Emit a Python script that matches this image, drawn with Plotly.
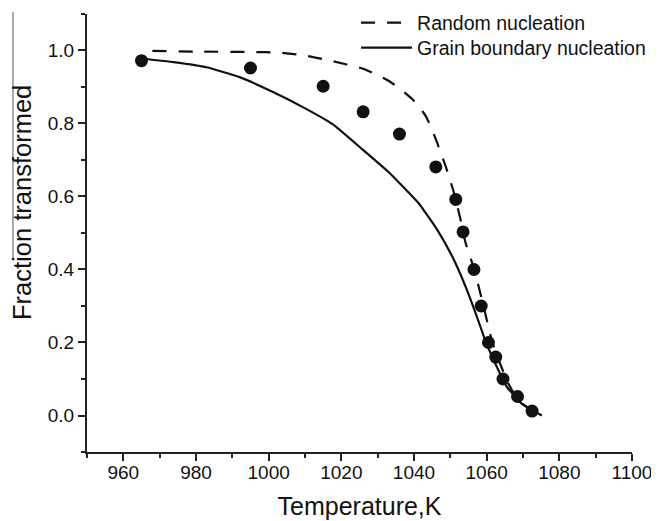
import plotly.graph_objects as go

# Experimental points
exp_T = [965, 995, 1015, 1026, 1036, 1046, 1051.5, 1053.5, 1056.5, 1058.5, 1060.5, 1062.5, 1064.5, 1068.5, 1072.5]
exp_f = [0.972, 0.952, 0.902, 0.832, 0.771, 0.681, 0.592, 0.503, 0.40, 0.30, 0.20, 0.16, 0.10, 0.052, 0.012]

# Random nucleation model (dashed)
rand_T = [968, 980, 995, 1003, 1010, 1017, 1026, 1033, 1039.5, 1043.2, 1046, 1048.7, 1051, 1052.8,
          1054.2, 1056, 1057.8, 1059.6, 1061.4, 1063.7, 1066, 1068.8, 1072.4, 1075.6]
rand_f = [0.999, 0.997, 0.996, 0.994, 0.986, 0.972, 0.950, 0.917, 0.867, 0.821, 0.757, 0.683, 0.610, 0.537,
          0.473, 0.418, 0.353, 0.280, 0.206, 0.142, 0.087, 0.041, 0.014, 0.0]

# Grain boundary nucleation model (solid)
gb_T = [965, 973.8, 982.9, 992, 1001.2, 1010.3, 1017.6, 1025.8, 1033.2, 1041.4, 1043.2, 1046.2,
        1050.5, 1054.2, 1057.3, 1059.6, 1062.4, 1065.6, 1069.7, 1075.2]
gb_f = [0.978, 0.968, 0.954, 0.927, 0.886, 0.840, 0.798, 0.729, 0.665, 0.580, 0.555, 0.512,
        0.436, 0.353, 0.271, 0.206, 0.142, 0.078, 0.032, 0.0]

x_ticks = [960, 980, 1000, 1020, 1040, 1060, 1080, 1100]
y_ticks = [0.0, 0.2, 0.4, 0.6, 0.8, 1.0]

x_title = "Temperature,K"
y_title = "Fraction transformed"

FONT = "Liberation Sans, Arial, Helvetica, sans-serif"
INK = "#111111"

fig = go.Figure()
fig.add_trace(go.Scatter(x=rand_T, y=rand_f, mode="lines", name="Random nucleation", legend="legend",
                         line=dict(color=INK, width=2.2, dash="14px,12px", shape="spline", smoothing=0.6)))
fig.add_trace(go.Scatter(x=gb_T, y=gb_f, mode="lines", name="Grain boundary nucleation", legend="legend2",
                         line=dict(color=INK, width=2.2, shape="spline", smoothing=0.4)))
fig.add_trace(go.Scatter(x=exp_T, y=exp_f, mode="markers", name="Experiment", showlegend=False,
                         marker=dict(color=INK, size=13, symbol="circle")))

axis_common = dict(showline=True, linewidth=2, linecolor="#222222", showgrid=False, zeroline=False,
                   ticks="outside", ticklen=7, tickwidth=2, tickcolor="#222222", automargin=False,
                   tickfont=dict(family=FONT, size=19, color=INK), mirror=False)

fig.update_xaxes(range=[950, 1100], tickvals=x_ticks, ticktext=[str(v) for v in x_ticks],
                 ticklabelstandoff=-5,
                 minor=dict(dtick=10, tick0=950, ticks="outside", ticklen=4, tickwidth=2, tickcolor="#222222"),
                 title=dict(text=x_title, font=dict(family=FONT, size=25, color=INK), standoff=16),
                 **axis_common)
fig.update_yaxes(range=[-0.1, 1.1], tickvals=y_ticks, ticktext=[f"{v:.1f}" for v in y_ticks],
                 domain=[0, 0.9865],
                 minor=dict(dtick=0.1, tick0=0, ticks="outside", ticklen=4, tickwidth=2, tickcolor="#222222"),
                 **axis_common)

# y-axis title (placed as rotated text, slightly above the axis centre as in the original)
fig.add_annotation(text=y_title, xref="paper", yref="paper", x=-0.1193, y=0.563,
                   xanchor="center", yanchor="middle", textangle=-90, showarrow=False,
                   font=dict(family=FONT, size=25.5, color=INK))

fig.add_shape(type="line", xref="paper", yref="paper", x0=-0.1358, x1=-0.1358, y0=0.432, y1=0.991,
              line=dict(color="#555555", width=1))

legend_common = dict(xanchor="left", yanchor="middle", bgcolor="rgba(0,0,0,0)",
                     font=dict(family=FONT, size=19.5, color=INK), itemwidth=51)

fig.update_layout(
    width=659, height=521,
    margin=dict(l=79, r=35, t=0, b=77, autoexpand=False),
    paper_bgcolor="white", plot_bgcolor="white",
    font=dict(family=FONT, color=INK),
    legend=dict(x=0.4937, y=(444 - 15) / 444, **legend_common),
    legend2=dict(x=0.4937, y=(444 - 40) / 444, **legend_common),
)

fig.write_html("out.html")
